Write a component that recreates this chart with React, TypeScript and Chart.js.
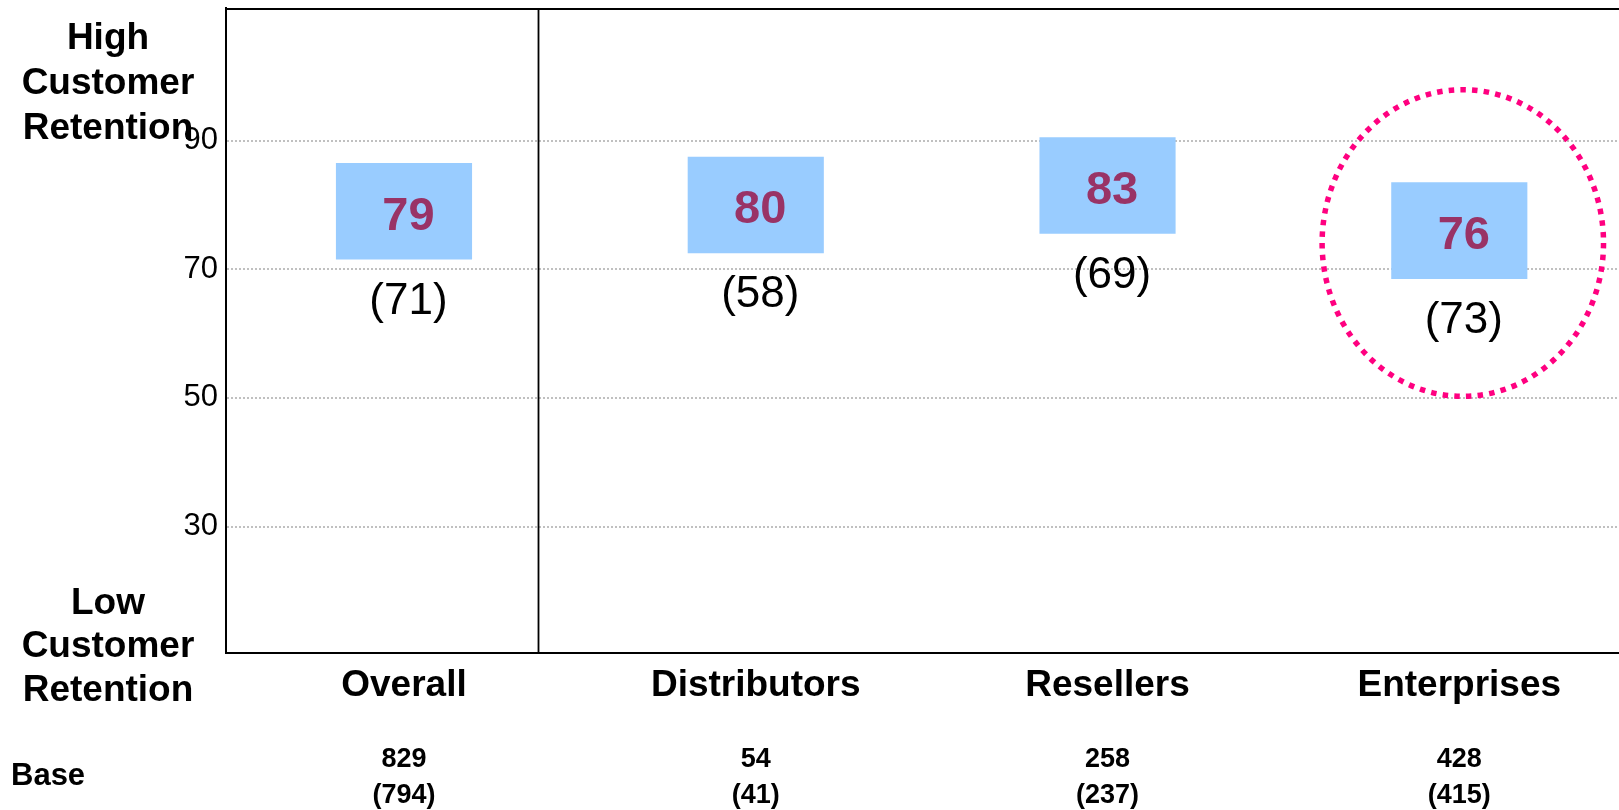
import React, { useEffect, useRef } from 'react';
import { Chart, registerables } from 'chart.js';

Chart.register(...registerables);

const FONT = '"Liberation Sans", Arial, Helvetica, sans-serif';

const categories = ['Overall', 'Distributors', 'Resellers', 'Enterprises'];
const scores = [79, 80, 83, 76];
const previousScores = [71, 58, 69, 73];
const boxLow = [71.5, 72.5, 75.5, 68.5];
const boxHigh = [86.5, 87.5, 90.5, 83.5];
const baseCurrent = [829, 54, 258, 428];
const basePrevious = [794, 41, 237, 415];
const yTickValues = [30, 50, 70, 90];
const highLabel = ['High', 'Customer', 'Retention'];
const lowLabel = ['Low', 'Customer', 'Retention'];
const baseLabel = 'Base';
const highlightXRange = [2.61, 3.41];
const highlightYRange = [50.25, 97.9];
const separatorAt = 0.38;

const overlayPlugin = {
  id: 'overlay',
  afterDatasetsDraw(chart: any) {
    const { ctx, chartArea, scales } = chart;
    const xs = scales.x;
    const ys = scales.y;
    ctx.save();
    // top frame line
    ctx.strokeStyle = '#000';
    ctx.lineWidth = 2;
    ctx.beginPath();
    ctx.moveTo(chartArea.left, chartArea.top + 1);
    ctx.lineTo(chartArea.right, chartArea.top + 1);
    ctx.stroke();
    // separator
    const sx = Math.round(xs.getPixelForValue(separatorAt)) + 0.5;
    ctx.lineWidth = 1.8;
    ctx.beginPath();
    ctx.moveTo(sx, chartArea.top);
    ctx.lineTo(sx, chartArea.bottom);
    ctx.stroke();

    // score labels and previous scores
    ctx.textAlign = 'center';
    ctx.textBaseline = 'middle';
    categories.forEach((_, i) => {
      const x = xs.getPixelForValue(i) + 4.5;
      ctx.fillStyle = '#993366';
      ctx.font = `bold 47px ${FONT}`;
      ctx.fillText(String(scores[i]), x, ys.getPixelForValue(scores[i]) + 5.5);
      ctx.fillStyle = '#000';
      ctx.font = `44px ${FONT}`;
      ctx.fillText(`(${previousScores[i]})`, x, ys.getPixelForValue(boxLow[i]) + 42);
    });

    // highlight ellipse
    const x1 = xs.getPixelForValue(highlightXRange[0]);
    const x2 = xs.getPixelForValue(highlightXRange[1]);
    const y1 = ys.getPixelForValue(highlightYRange[1]);
    const y2 = ys.getPixelForValue(highlightYRange[0]);
    ctx.strokeStyle = '#FF0080';
    ctx.lineWidth = 5.5;
    ctx.lineCap = 'butt';
    ctx.setLineDash([5.5, 6.2]);
    ctx.beginPath();
    ctx.ellipse((x1 + x2) / 2, (y1 + y2) / 2, (x2 - x1) / 2, (y2 - y1) / 2, 0, 0, Math.PI * 2);
    ctx.stroke();
    ctx.setLineDash([]);
    ctx.restore();
  },
  afterDraw(chart: any) {
    const { ctx, scales } = chart;
    const xs = scales.x;
    ctx.save();
    ctx.fillStyle = '#000';
    ctx.textBaseline = 'middle';
    ctx.textAlign = 'center';
    ctx.font = `bold 37px ${FONT}`;
    const highY = [38.5, 84, 128.5];
    const lowY = [603.5, 647, 691];
    highLabel.forEach((t, i) => ctx.fillText(t, 108, highY[i]));
    lowLabel.forEach((t, i) => ctx.fillText(t, 108, lowY[i]));

    ctx.font = `bold 27px ${FONT}`;
    categories.forEach((_, i) => {
      const x = xs.getPixelForValue(i);
      ctx.fillText(String(baseCurrent[i]), x, 759.5);
      ctx.fillText(`(${basePrevious[i]})`, x, 796);
    });
    ctx.textAlign = 'left';
    ctx.font = `bold 31px ${FONT}`;
    ctx.fillText(baseLabel, 11, 776);
    ctx.restore();
  },
};

export default function App() {
  const ref = useRef<HTMLCanvasElement | null>(null);
  useEffect(() => {
    if (!ref.current) return;
    Chart.defaults.font.family = FONT;
    const chart = new Chart(ref.current, {
      type: 'bar',
      data: {
        datasets: [
          {
            data: categories.map((_, i) => ({ x: i, y: [boxLow[i], boxHigh[i]] })) as any,
            backgroundColor: '#99CCFF',
            borderWidth: 0,
            barPercentage: 0.387,
            categoryPercentage: 1,
          },
        ],
      },
      options: {
        animation: false,
        responsive: false,
        layout: { padding: { top: 8, left: 0, right: 0, bottom: 0 } },
        plugins: { legend: { display: false }, tooltip: { enabled: false } },
        scales: {
          x: {
            type: 'linear',
            offset: false,
            min: -0.506,
            max: 3.454,
            afterBuildTicks: (s: any) => {
              s.ticks = categories.map((_, i) => ({ value: i }));
            },
            afterFit: (s: any) => {
              s.height = 157.3;
              s.paddingLeft = 0;
              s.paddingRight = 0;
            },
            ticks: {
              callback: (v: any) => categories[v] ?? '',
              font: { family: FONT, size: 37, weight: 'bold' },
              color: '#000',
              padding: 11,
              maxRotation: 0,
              autoSkip: false,
            },
            grid: { display: false, drawTicks: false, offset: false },
            border: { color: '#000', width: 2 },
          },
          y: {
            min: 10.4,
            max: 110.6,
            afterBuildTicks: (s: any) => {
              s.ticks = yTickValues.map((v) => ({ value: v }));
            },
            afterFit: (s: any) => {
              s.width = 226;
              s.paddingTop = 0;
              s.paddingBottom = 0;
            },
            ticks: {
              font: { family: FONT, size: 31 },
              color: '#000',
              padding: 8,
            },
            grid: { color: '#c0c0c0', lineWidth: 2, drawTicks: false },
            border: { color: '#000', width: 2, dash: [2, 2] },
          },
        },
      } as any,
      plugins: [overlayPlugin],
    });
    return () => chart.destroy();
  }, []);
  return (
    <div style={{ position: 'fixed', left: 0, top: 0, width: 1619, height: 810, background: '#fff' }}>
      <canvas ref={ref} width={1619} height={810} style={{ display: 'block' }} />
    </div>
  );
}
